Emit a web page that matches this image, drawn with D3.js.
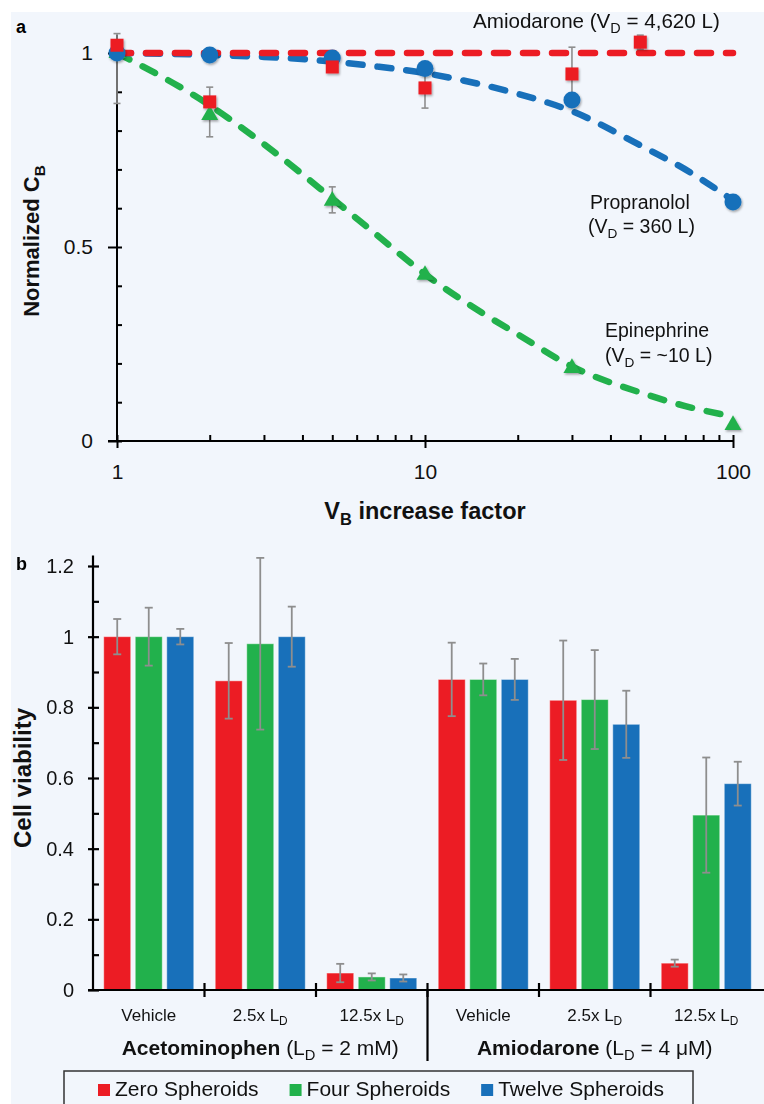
<!DOCTYPE html>
<html>
<head>
<meta charset="utf-8">
<script src="https://cdn.jsdelivr.net/npm/d3@7.9.0/dist/d3.min.js"></script>
<style>
  body { margin: 0; background: #fff; }
  svg { display: block; font-family: "Liberation Sans", Arial, Helvetica, sans-serif; }
</style>
</head>
<body>
<script>
// ---- panel a data ----
const markX = [1, 2, 5, 10, 30, 100];
const amioX = [1, 2, 5, 10, 30, 50];
const amioVals = [1.02, 0.874, 0.964, 0.91, 0.946, 1.028];
const propVals = [1.0, 0.995, 0.987, 0.96, 0.879, 0.616];
const epiVals = [1.0, 0.84, 0.619, 0.428, 0.188, 0.041];

// fitted dashed curves
const curveX = [1, 2, 3, 5, 7, 10, 15, 20, 30, 50, 70, 100];
const amioCurve = [1, 1, 1, 1, 1, 1, 1, 1, 1, 1, 1, 1];
const propCurve = [1, 0.995, 0.99, 0.978, 0.965, 0.948, 0.92, 0.895, 0.85, 0.762, 0.70, 0.62];
const epiCurve = [1, 0.865, 0.765, 0.625, 0.53, 0.43, 0.335, 0.275, 0.192, 0.125, 0.09, 0.063];

// error bars in panel a
const errX = [1, 2, 5, 10, 30, 50];
const errLo = [0.87, 0.784, 0.588, 0.858, 0.877, 1.01];
const errHi = [1.05, 0.912, 0.655, 0.964, 1.015, 1.046];

// ---- panel b data ----
const groups = ['Vehicle', '2.5x', '12.5x', 'Vehicle', '2.5x', '12.5x'];
const series = ['Zero Spheroids', 'Four Spheroids', 'Twelve Spheroids'];
const zeroVals = [1.0, 0.875, 0.048, 0.879, 0.82, 0.076];
const fourVals = [1.0, 0.98, 0.037, 0.879, 0.822, 0.495];
const twelveVals = [1.0, 1.0, 0.034, 0.879, 0.752, 0.584];
const zeroErr = [0.05, 0.107, 0.026, 0.104, 0.169, 0.01];
const fourErr = [0.082, 0.243, 0.01, 0.045, 0.14, 0.163];
const twelveErr = [0.022, 0.085, 0.01, 0.058, 0.095, 0.062];

const RED = '#ec1c24', GREEN = '#22b14c', BLUE = '#1870ba', GRAY = '#8e8e8e';

const svg = d3.select('body').append('svg').attr('width', 764).attr('height', 1104);
svg.append('rect').attr('x', 11).attr('y', 12).attr('width', 753).attr('height', 1092).attr('fill', '#f2f6fc');

const defs = svg.append('defs');
const f = defs.append('filter').attr('id', 'shadow').attr('x', '-30%').attr('y', '-30%').attr('width', '160%').attr('height', '160%');
f.append('feDropShadow').attr('dx', 1).attr('dy', 1.5).attr('stdDeviation', 1).attr('flood-opacity', 0.35);

// text with bold / subscript parts
function richText(g, x, y, parts, size, anchor) {
  const t = g.append('text').attr('x', x).attr('y', y).attr('font-size', size)
    .attr('text-anchor', anchor || 'start').attr('fill', '#111');
  let down = false;
  parts.forEach(([s, st]) => {
    const ts = t.append('tspan').text(s);
    if (st.includes('b')) ts.attr('font-weight', 'bold');
    if (st.includes('s')) {
      ts.attr('font-size', size * 0.7).attr('dy', size * 0.25);
      down = true;
    } else if (down) {
      ts.attr('dy', -size * 0.25);
      down = false;
    }
  });
  return t;
}

// ================= panel a =================
const xA = d3.scaleLog().domain([1, 100]).range([117, 733]);
const yA = d3.scaleLinear().domain([0, 1]).range([441, 53]);
const ga = svg.append('g');

// y axis
ga.append('line').attr('x1', xA(1)).attr('x2', xA(1)).attr('y1', yA(0)).attr('y2', yA(1.047))
  .attr('stroke', '#000').attr('stroke-width', 2);
ga.append('g').attr('transform', `translate(${xA(1)},0)`)
  .call(d3.axisLeft(yA).tickValues([0, 0.5, 1]).tickSize(9).tickPadding(15).tickFormat(d3.format('')))
  .call(g => g.select('.domain').remove());
ga.append('g').attr('transform', `translate(${xA(1)},0)`)
  .call(d3.axisRight(yA).tickValues(d3.range(0, 1.01, 0.1)).tickSize(5).tickFormat(''))
  .call(g => g.select('.domain').remove());

// x axis
ga.append('line').attr('x1', xA(1) - 9).attr('x2', xA(100)).attr('y1', yA(0)).attr('y2', yA(0))
  .attr('stroke', '#000').attr('stroke-width', 2);
ga.append('g').attr('transform', `translate(0,${yA(0)})`)
  .call(d3.axisBottom(xA).tickValues([1, 10, 100]).tickSize(7).tickPadding(16).tickFormat(d3.format('')))
  .call(g => g.select('.domain').remove());
ga.append('g').attr('transform', `translate(0,${yA(0)})`)
  .call(d3.axisTop(xA).tickValues(xA.ticks()).tickSize(6).tickFormat(''))
  .call(g => g.select('.domain').remove());
ga.selectAll('.tick line').attr('stroke', '#000').attr('stroke-width', 2);
ga.selectAll('.tick text').attr('font-size', 21).attr('fill', '#111')
  .attr('font-family', '"Liberation Sans", Arial, sans-serif');

// axis titles
richText(ga, 0, 0, [['Normalized C', 'b'], ['B', 'bs']], 22, 'middle')
  .attr('transform', 'translate(39,241) rotate(-90)');
richText(ga, 425, 519, [['V', 'b'], ['B', 'bs'], [' increase factor', 'b']], 23.5, 'middle');
ga.append('text').attr('x', 16).attr('y', 33).attr('font-size', 18).attr('font-weight', 'bold').text('a');

// error bars
const eb = ga.append('g').attr('stroke', GRAY).attr('stroke-width', 1.6);
errX.forEach((x, i) => {
  const cx = xA(x);
  eb.append('line').attr('x1', cx).attr('x2', cx).attr('y1', yA(errLo[i])).attr('y2', yA(errHi[i]));
  eb.append('line').attr('x1', cx - 3.5).attr('x2', cx + 3.5).attr('y1', yA(errLo[i])).attr('y2', yA(errLo[i]));
  eb.append('line').attr('x1', cx - 3.5).attr('x2', cx + 3.5).attr('y1', yA(errHi[i])).attr('y2', yA(errHi[i]));
});

// dashed fitted curves
const line = d3.line().x(d => xA(d[0])).y(d => yA(d[1])).curve(d3.curveMonotoneX);
[[epiCurve, GREEN], [propCurve, BLUE], [amioCurve, RED]].forEach(([vals, c]) => {
  ga.append('path').datum(curveX.map((x, i) => [x, vals[i]]))
    .attr('d', line).attr('fill', 'none').attr('stroke', c).attr('stroke-width', 6.5)
    .attr('stroke-dasharray', '14 15').attr('stroke-linecap', 'round');
});

// markers
const mk = ga.append('g').attr('filter', 'url(#shadow)');
markX.forEach((x, i) => {
  mk.append('path').attr('d', d3.symbol(d3.symbolTriangle, 125)())
    .attr('transform', `translate(${xA(x)},${yA(epiVals[i])})`).attr('fill', GREEN);
});
markX.forEach((x, i) => {
  mk.append('circle').attr('cx', xA(x)).attr('cy', yA(propVals[i])).attr('r', 8.5).attr('fill', BLUE);
});
amioX.forEach((x, i) => {
  mk.append('rect').attr('x', xA(x) - 6.5).attr('y', yA(amioVals[i]) - 6.5)
    .attr('width', 13).attr('height', 13).attr('fill', RED);
});

// annotations
richText(ga, 473, 28, [['Amiodarone (V', ''], ['D', 's'], [' = 4,620 L)', '']], 20.6);
richText(ga, 590, 209, [['Propranolol', '']], 19.5);
richText(ga, 588, 233, [['(V', ''], ['D', 's'], [' = 360 L)', '']], 19.5);
richText(ga, 605, 337, [['Epinephrine', '']], 19.5);
richText(ga, 605, 362, [['(V', ''], ['D', 's'], [' = ~10 L)', '']], 19.5);

// ================= panel b =================
const yB = d3.scaleLinear().domain([0, 1.2]).range([990, 566]);
const x0 = d3.scaleBand().domain(d3.range(groups.length)).range([93, 762]);
const x1 = d3.scaleBand().domain(d3.range(series.length)).range([0, x0.bandwidth()])
  .paddingInner(0.143).paddingOuter(0.34);
const gb = svg.append('g');
const colors = [RED, GREEN, BLUE];
const vals = [zeroVals, fourVals, twelveVals];
const errs = [zeroErr, fourErr, twelveErr];

// bars
vals.forEach((v, s) => {
  gb.append('g').selectAll('rect').data(v).join('rect')
    .attr('x', (d, i) => x0(i) + x1(s)).attr('width', x1.bandwidth())
    .attr('y', d => yB(d)).attr('height', d => yB(0) - yB(d))
    .attr('fill', colors[s]).attr('stroke', 'rgba(255,255,255,0.45)').attr('stroke-width', 1);
});
// error bars
const ebB = gb.append('g').attr('stroke', GRAY).attr('stroke-width', 1.8);
vals.forEach((v, s) => {
  v.forEach((d, i) => {
    const cx = x0(i) + x1(s) + x1.bandwidth() / 2;
    const lo = yB(d - errs[s][i]), hi = yB(d + errs[s][i]);
    ebB.append('line').attr('x1', cx).attr('x2', cx).attr('y1', lo).attr('y2', hi);
    ebB.append('line').attr('x1', cx - 4).attr('x2', cx + 4).attr('y1', lo).attr('y2', lo);
    ebB.append('line').attr('x1', cx - 4).attr('x2', cx + 4).attr('y1', hi).attr('y2', hi);
  });
});

// y axis
gb.append('line').attr('x1', 93).attr('x2', 93).attr('y1', yB(0)).attr('y2', yB(1.23))
  .attr('stroke', '#000').attr('stroke-width', 2.2);
gb.append('g').attr('transform', 'translate(93,0)')
  .call(d3.axisLeft(yB).tickValues(d3.range(0, 1.21, 0.2)).tickSize(5).tickPadding(14)
    .tickFormat(d => d3.format('')(+d.toFixed(1))))
  .call(g => g.select('.domain').remove());
gb.append('g').attr('transform', 'translate(93,0)')
  .call(d3.axisRight(yB).tickValues(d3.range(0, 1.21, 0.1)).tickSize(6).tickFormat(''))
  .call(g => g.select('.domain').remove());

// x axis with ticks at group boundaries
gb.append('line').attr('x1', 88).attr('x2', 764).attr('y1', yB(0)).attr('y2', yB(0))
  .attr('stroke', '#000').attr('stroke-width', 2.2);
const bounds = d3.range(1, groups.length).map(i => x0(i));
gb.selectAll('.xt').data(bounds).join('line').attr('class', 'xt')
  .attr('x1', d => d).attr('x2', d => d).attr('y1', yB(0) - 7).attr('y2', yB(0) + 7)
  .attr('stroke', '#000').attr('stroke-width', 2.2);
// divider between drugs
gb.append('line').attr('x1', x0(3)).attr('x2', x0(3)).attr('y1', yB(0)).attr('y2', 1061)
  .attr('stroke', '#000').attr('stroke-width', 2.2);

gb.selectAll('.tick line').attr('stroke', '#000').attr('stroke-width', 2.2);
gb.selectAll('.tick text').attr('font-size', 20).attr('fill', '#111')
  .attr('font-family', '"Liberation Sans", Arial, sans-serif');

// category labels
groups.forEach((gname, i) => {
  const cx = x0(i) + x0.bandwidth() / 2;
  if (gname === 'Vehicle') richText(gb, cx, 1021, [['Vehicle', '']], 17, 'middle');
  else richText(gb, cx, 1021, [[gname + ' L', ''], ['D', 's']], 17, 'middle');
});
richText(gb, (x0(0) + x0(2) + x0.bandwidth()) / 2, 1055,
  [['Acetominophen', 'b'], [' (L', ''], ['D', 's'], [' = 2 mM)', '']], 21, 'middle');
richText(gb, (x0(3) + x0(5) + x0.bandwidth()) / 2, 1055,
  [['Amiodarone', 'b'], [' (L', ''], ['D', 's'], [' = 4 \u03bcM)', '']], 21, 'middle');

richText(gb, 0, 0, [['Cell viability', 'b']], 24, 'middle').attr('transform', 'translate(31,778) rotate(-90)');
gb.append('text').attr('x', 16).attr('y', 570).attr('font-size', 18).attr('font-weight', 'bold').text('b');

// legend
const lg = gb.append('g');
lg.append('rect').attr('x', 64).attr('y', 1071).attr('width', 629).attr('height', 40)
  .attr('fill', 'none').attr('stroke', '#333').attr('stroke-width', 1.5);
let lx = 98;
series.forEach((s, i) => {
  lg.append('rect').attr('x', lx).attr('y', 1084).attr('width', 12).attr('height', 12).attr('fill', colors[i]);
  const t = lg.append('text').attr('x', lx + 17).attr('y', 1096).attr('font-size', 21).attr('fill', '#111').text(s);
  lx += 17 + t.node().getComputedTextLength() + 31;
});
</script>
</body>
</html>
